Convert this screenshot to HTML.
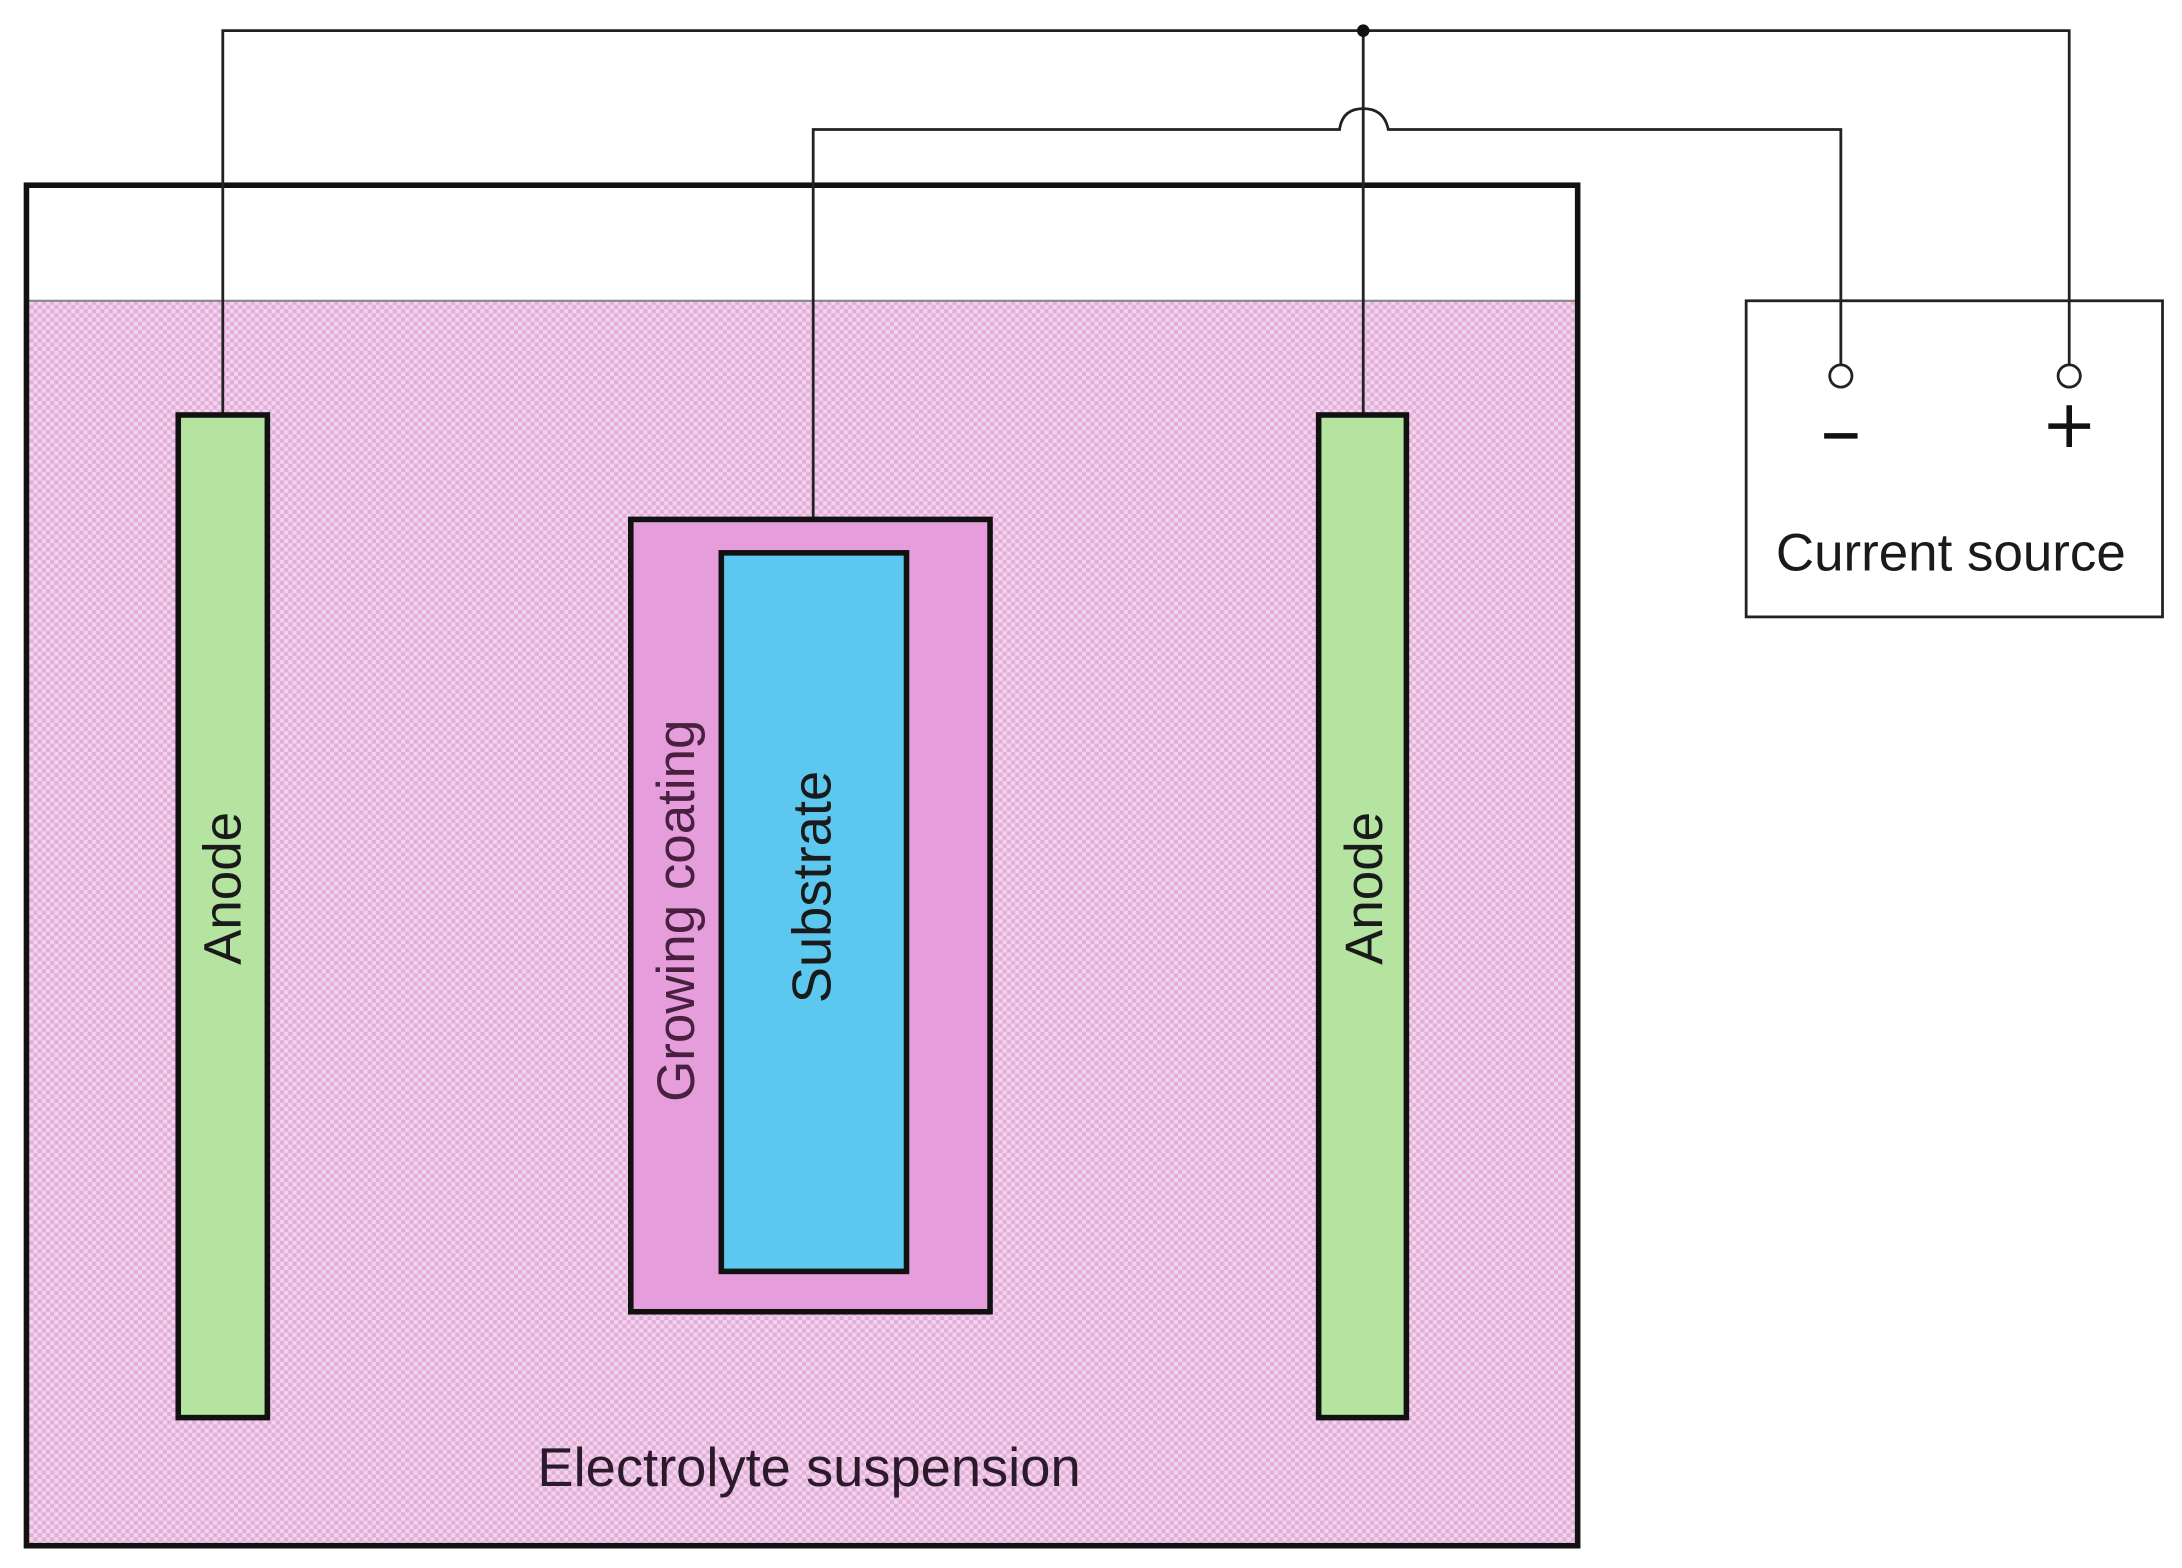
<!DOCTYPE html>
<html><head><meta charset="utf-8"><style>
html,body{margin:0;padding:0;background:#fff;}
svg{display:block;}
text{font-family:"Liberation Sans",sans-serif;}
</style></head><body>
<svg width="2182" height="1568" viewBox="0 0 1567 1126" preserveAspectRatio="none" xmlns="http://www.w3.org/2000/svg">
<defs>
<pattern id="chk" width="6" height="6" patternUnits="userSpaceOnUse">
<rect width="6" height="6" fill="#efd6ea"/>
<rect width="3" height="3" fill="#e6acdc"/>
<rect x="3" y="3" width="3" height="3" fill="#e6acdc"/>
</pattern>
</defs>
<rect x="0" y="0" width="1567" height="1126" fill="#fff"/>
<rect x="19" y="216" width="1114" height="894" fill="url(#chk)"/>
<line x1="19" y1="216" x2="1133" y2="216" stroke="#888" stroke-width="1.5"/>
<rect x="19" y="133" width="1114" height="977" fill="none" stroke="#111" stroke-width="4"/>
<g fill="none" stroke="#222" stroke-width="2">
<polyline points="160,298 160,22 1486,22 1486,262"/>
<line x1="979" y1="22" x2="979" y2="298"/>
<path d="M584,398 L584,93 L962,93 Q964,78 979,78 Q994,78 997,93 L1322,93 L1322,262"/>
<circle cx="1322" cy="270" r="8" fill="#fff"/>
<circle cx="1486" cy="270" r="8" fill="#fff"/>
</g>
<circle cx="979" cy="22" r="4.5" fill="#111"/>
<rect x="128" y="298" width="64" height="720" fill="#b5e3a0" stroke="#111" stroke-width="4"/>
<rect x="947" y="298" width="63" height="720" fill="#b5e3a0" stroke="#111" stroke-width="4"/>
<rect x="453" y="373" width="258" height="569" fill="#e59ddc" stroke="#111" stroke-width="4"/>
<rect x="518" y="397" width="133" height="516" fill="#5cc8f0" stroke="#111" stroke-width="4"/>
<g fill="#1a1a1a" text-anchor="middle" dominant-baseline="central">
<text transform="translate(160,638) rotate(-90)" font-size="38">Anode</text>
<text transform="translate(980,638) rotate(-90)" font-size="38">Anode</text>
<text transform="translate(486,654) rotate(-90)" font-size="38" fill="#4a2040">Growing coating</text>
<text transform="translate(583,637) rotate(-90)" font-size="39">Substrate</text>
<text x="581" y="1054" font-size="39" fill="#2a1a2a">Electrolyte suspension</text>
</g>
<rect x="1254" y="216" width="299" height="227" fill="none" stroke="#222" stroke-width="2"/>
<line x1="1310" y1="313" x2="1334" y2="313" stroke="#111" stroke-width="4"/>
<line x1="1471" y1="306" x2="1501" y2="306" stroke="#111" stroke-width="4"/>
<line x1="1486" y1="291" x2="1486" y2="321" stroke="#111" stroke-width="4"/>
<text x="1401" y="397" font-size="38" fill="#1a1a1a" text-anchor="middle" dominant-baseline="central">Current source</text>
</svg>
</body></html>
